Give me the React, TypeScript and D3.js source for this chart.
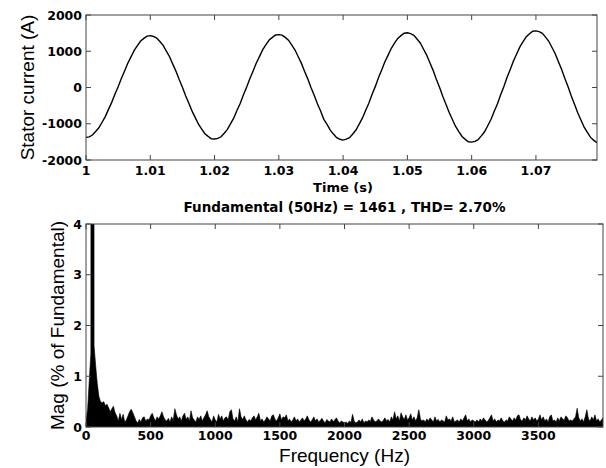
import React from 'react';
import * as d3 from 'd3';

// ---- Top plot data: stator current sampled every 0.5 ms from t = 1 s ----
const timeStart = 1.0;
const timeStep = 0.0005;
const currentValues = [
  -1375, -1362, -1310, -1215, -1112, -958, -802, -604, -410, -186, 22, 251, 455, 670, 846, 1024, 1156, 1282, 1355, 1418, 1430,
  1408, 1364, 1268, 1162, 1006, 848, 645, 450, 219, 8, -226, -433, -652, -830, -1013, -1146, -1275, -1349, -1414, -1421,
  -1402, -1360, -1262, -1155, -996, -837, -630, -434, -202, 12, 249, 457, 678, 860, 1043, 1184, 1309, 1383, 1449, 1458,
  1446, 1383, 1306, 1176, 1040, 855, 672, 449, 238, -2, -216, -451, -650, -878, -1018, -1178, -1285, -1385, -1428, -1450,
  -1426, -1384, -1283, -1173, -1010, -846, -636, -433, -195, 24, 267, 481, 708, 894, 1082, 1221, 1355, 1431, 1497, 1510,
  1488, 1441, 1339, 1228, 1062, 894, 680, 473, 230, 6, -242, -461, -692, -882, -1074, -1216, -1351, -1430, -1498, -1508,
  -1486, -1441, -1336, -1222, -1054, -883, -665, -454, -206, 22, 273, 497, 732, 926, 1121, 1265, 1403, 1484, 1553, 1563,
  1540, 1495, 1390, 1275, 1104, 931, 711, 498, 249, 19, -236, -461, -698, -895, -1091, -1237, -1377, -1458, -1522,
];
const timeDomain = [1, 1.0795];
const timeTicks = [1, 1.01, 1.02, 1.03, 1.04, 1.05, 1.06, 1.07];
const timeTickLabels = ['1', '1.01', '1.02', '1.03', '1.04', '1.05', '1.06', '1.07'];
const currentDomain = [-2000, 2000];
const currentTicks = [-2000, -1000, 0, 1000, 2000];

// ---- Bottom plot data: FFT magnitude (% of fundamental), 12.5 Hz bins ----
const freqStep = 12.5;
const magValues = [
  0.12, 0.35, 0.9, 1.45, 100, 1.6, 1.2, 0.85, 0.6, 0.5,
  0.48, 0.5, 0.42, 0.45, 0.38, 0.3, 0.36, 0.41, 0.28, 0.22,
  0.12, 0.27, 0.15, 0.25, 0.1, 0.14, 0.22, 0.3, 0.35, 0.28,
  0.2, 0.12, 0.08, 0.15, 0.1, 0.18, 0.2, 0.12, 0.16, 0.14,
  0.22, 0.27, 0.18, 0.12, 0.2, 0.16, 0.22, 0.3, 0.2, 0.14,
  0.12, 0.17, 0.1, 0.2, 0.13, 0.36, 0.24, 0.16, 0.2, 0.12,
  0.22, 0.27, 0.15, 0.2, 0.12, 0.32, 0.18, 0.14, 0.1, 0.2,
  0.15, 0.22, 0.12, 0.18, 0.24, 0.32, 0.2, 0.15, 0.1, 0.22,
  0.14, 0.1, 0.25, 0.16, 0.22, 0.12, 0.18, 0.2, 0.14, 0.3,
  0.34, 0.16, 0.12, 0.2, 0.1, 0.36, 0.2, 0.15, 0.22, 0.14,
  0.1, 0.15, 0.12, 0.18, 0.22, 0.14, 0.2, 0.27, 0.12, 0.16,
  0.1, 0.14, 0.2, 0.16, 0.12, 0.22, 0.24, 0.15, 0.12, 0.18,
  0.26, 0.14, 0.2, 0.18, 0.24, 0.12, 0.16, 0.1, 0.14, 0.2,
  0.12, 0.16, 0.1, 0.14, 0.18, 0.12, 0.16, 0.22, 0.14, 0.1,
  0.14, 0.2, 0.12, 0.16, 0.1, 0.13, 0.17, 0.12, 0.08, 0.15,
  0.12, 0.1, 0.16, 0.11, 0.14, 0.18, 0.12, 0.08, 0.12, 0.1,
  0.08, 0.1, 0.07, 0.12, 0.09, 0.25, 0.12, 0.08, 0.1, 0.14,
  0.1, 0.16, 0.08, 0.12, 0.1, 0.14, 0.11, 0.2, 0.14, 0.1,
  0.12, 0.16, 0.12, 0.1, 0.13, 0.18, 0.12, 0.15, 0.1, 0.2,
  0.14, 0.3, 0.16, 0.22, 0.12, 0.28, 0.2, 0.15, 0.24, 0.14,
  0.18, 0.26, 0.14, 0.2, 0.12, 0.18, 0.34, 0.16, 0.12, 0.14,
  0.1, 0.16, 0.12, 0.18, 0.14, 0.1, 0.2, 0.12, 0.15, 0.1,
  0.14, 0.12, 0.1, 0.22, 0.14, 0.16, 0.12, 0.2, 0.1, 0.12,
  0.14, 0.1, 0.16, 0.12, 0.18, 0.24, 0.12, 0.16, 0.1, 0.14,
  0.12, 0.1, 0.14, 0.1, 0.16, 0.12, 0.18, 0.14, 0.1, 0.13,
  0.18, 0.24, 0.12, 0.16, 0.1, 0.14, 0.12, 0.18, 0.12, 0.1,
  0.14, 0.12, 0.2, 0.16, 0.12, 0.18, 0.14, 0.22, 0.24, 0.14,
  0.12, 0.18, 0.14, 0.22, 0.16, 0.12, 0.2, 0.14, 0.18, 0.12,
  0.16, 0.24, 0.14, 0.2, 0.12, 0.16, 0.1, 0.2, 0.24, 0.12,
  0.14, 0.1, 0.18, 0.12, 0.2, 0.16, 0.14, 0.22, 0.18, 0.12,
  0.14, 0.12, 0.16, 0.2, 0.37, 0.18, 0.12, 0.16, 0.1, 0.2,
  0.34, 0.16, 0.12, 0.2, 0.14, 0.24, 0.12, 0.16, 0.1, 0.14,
  0.18,
];
const freqDomain = [0, 4000];
const freqTicks = [0, 500, 1000, 1500, 2000, 2500, 3000, 3500];
const magDomain = [0, 4];
const magTicks = [0, 1, 2, 3, 4];

const titleText = 'Fundamental (50Hz) = 1461 , THD= 2.70%';

const W = 606;
const H = 468;
const top = { left: 86, right: 597, top: 15, bottom: 160 };
const bot = { left: 86, right: 603, top: 224, bottom: 427 };
const tickLen = 5;
const frameColor = '#444';
const tickFont = "'DejaVu Sans', sans-serif";
const labelFont = "'Liberation Sans', Arial, sans-serif";

export default function App() {
  const xT = d3.scaleLinear().domain(timeDomain).range([top.left, top.right]);
  const yT = d3.scaleLinear().domain(currentDomain).range([top.bottom, top.top]);
  const xF = d3.scaleLinear().domain(freqDomain).range([bot.left, bot.right]);
  const yF = d3.scaleLinear().domain(magDomain).range([bot.bottom, bot.top]);

  const currentPts = currentValues.map((v, i) => [timeStart + i * timeStep, v] as [number, number]);
  const linePath = d3.line<[number, number]>().x(d => xT(d[0])).y(d => yT(d[1]))(currentPts) || '';

  const magPts = magValues.map((v, i) => [i * freqStep, v] as [number, number]);
  const areaPath = d3.area<[number, number]>().x(d => xF(d[0])).y0(yF(0)).y1(d => yF(d[1]))(magPts) || '';

  return (
    <svg width={W} height={H} style={{ position: 'absolute', left: 0, top: 0, background: '#fff' }}>
      <defs>
        <clipPath id="clipTop"><rect x={top.left} y={top.top} width={top.right - top.left} height={top.bottom - top.top} /></clipPath>
        <clipPath id="clipBot"><rect x={bot.left} y={bot.top} width={bot.right - bot.left} height={bot.bottom - bot.top} /></clipPath>
      </defs>

      {/* ---------- Top plot ---------- */}
      <path d={linePath} fill="none" stroke="#000" strokeWidth={1.4} clipPath="url(#clipTop)" />
      <rect x={top.left} y={top.top} width={top.right - top.left} height={top.bottom - top.top} fill="none" stroke={frameColor} strokeWidth={1} />
      {timeTicks.map((t, i) => (
        <g key={'tt' + i}>
          <line x1={xT(t)} x2={xT(t)} y1={top.bottom} y2={top.bottom - tickLen} stroke={frameColor} />
          <line x1={xT(t)} x2={xT(t)} y1={top.top} y2={top.top + tickLen} stroke={frameColor} />
          <text x={xT(t)} y={175} textAnchor="middle" fontFamily={tickFont} fontWeight="bold" fontSize={12.5} fill="#000">{timeTickLabels[i]}</text>
        </g>
      ))}
      {currentTicks.map((v, i) => (
        <g key={'ct' + i}>
          <line x1={top.left} x2={top.left + tickLen} y1={yT(v)} y2={yT(v)} stroke={frameColor} />
          <line x1={top.right} x2={top.right - tickLen} y1={yT(v)} y2={yT(v)} stroke={frameColor} />
          <text x={82} y={yT(v) + 4.5} textAnchor="end" fontFamily={tickFont} fontWeight="bold" fontSize={12.5} fill="#000">{v}</text>
        </g>
      ))}
      <text x={343} y={192} textAnchor="middle" fontFamily={tickFont} fontWeight="bold" fontSize={13} fill="#000">Time (s)</text>
      <text transform={`translate(34,${(top.top + top.bottom) / 2}) rotate(-90)`} textAnchor="middle" fontFamily={labelFont} fontSize={19} fill="#000">Stator current (A)</text>

      {/* ---------- Bottom plot ---------- */}
      <text x={(bot.left + bot.right) / 2} y={212} textAnchor="middle" fontFamily={tickFont} fontWeight="bold" fontSize={13.5} fill="#000">{titleText}</text>
      <path d={areaPath} fill="#000" stroke="#000" strokeWidth={0.6} clipPath="url(#clipBot)" />
      <rect x={bot.left} y={bot.top} width={bot.right - bot.left} height={bot.bottom - bot.top} fill="none" stroke={frameColor} strokeWidth={1} />
      {freqTicks.map((f, i) => (
        <g key={'ft' + i}>
          <line x1={xF(f)} x2={xF(f)} y1={bot.bottom} y2={bot.bottom - tickLen} stroke={frameColor} />
          <line x1={xF(f)} x2={xF(f)} y1={bot.top} y2={bot.top + tickLen} stroke={frameColor} />
          <text x={xF(f)} y={440} textAnchor="middle" fontFamily={tickFont} fontWeight="bold" fontSize={12.5} fill="#000">{f}</text>
        </g>
      ))}
      {magTicks.map((m, i) => (
        <g key={'mt' + i}>
          <line x1={bot.left} x2={bot.left + tickLen} y1={yF(m)} y2={yF(m)} stroke={frameColor} />
          <line x1={bot.right} x2={bot.right - tickLen} y1={yF(m)} y2={yF(m)} stroke={frameColor} />
          <text x={82} y={yF(m) + 4.5} textAnchor="end" fontFamily={tickFont} fontWeight="bold" fontSize={12.5} fill="#000">{m}</text>
        </g>
      ))}
      <text x={(bot.left + bot.right) / 2} y={462} textAnchor="middle" fontFamily={labelFont} fontSize={19} fill="#000">Frequency (Hz)</text>
      <text transform={`translate(64,${(bot.top + bot.bottom) / 2}) rotate(-90)`} textAnchor="middle" fontFamily={labelFont} fontSize={19} fill="#000">Mag (% of Fundamental)</text>
    </svg>
  );
}
